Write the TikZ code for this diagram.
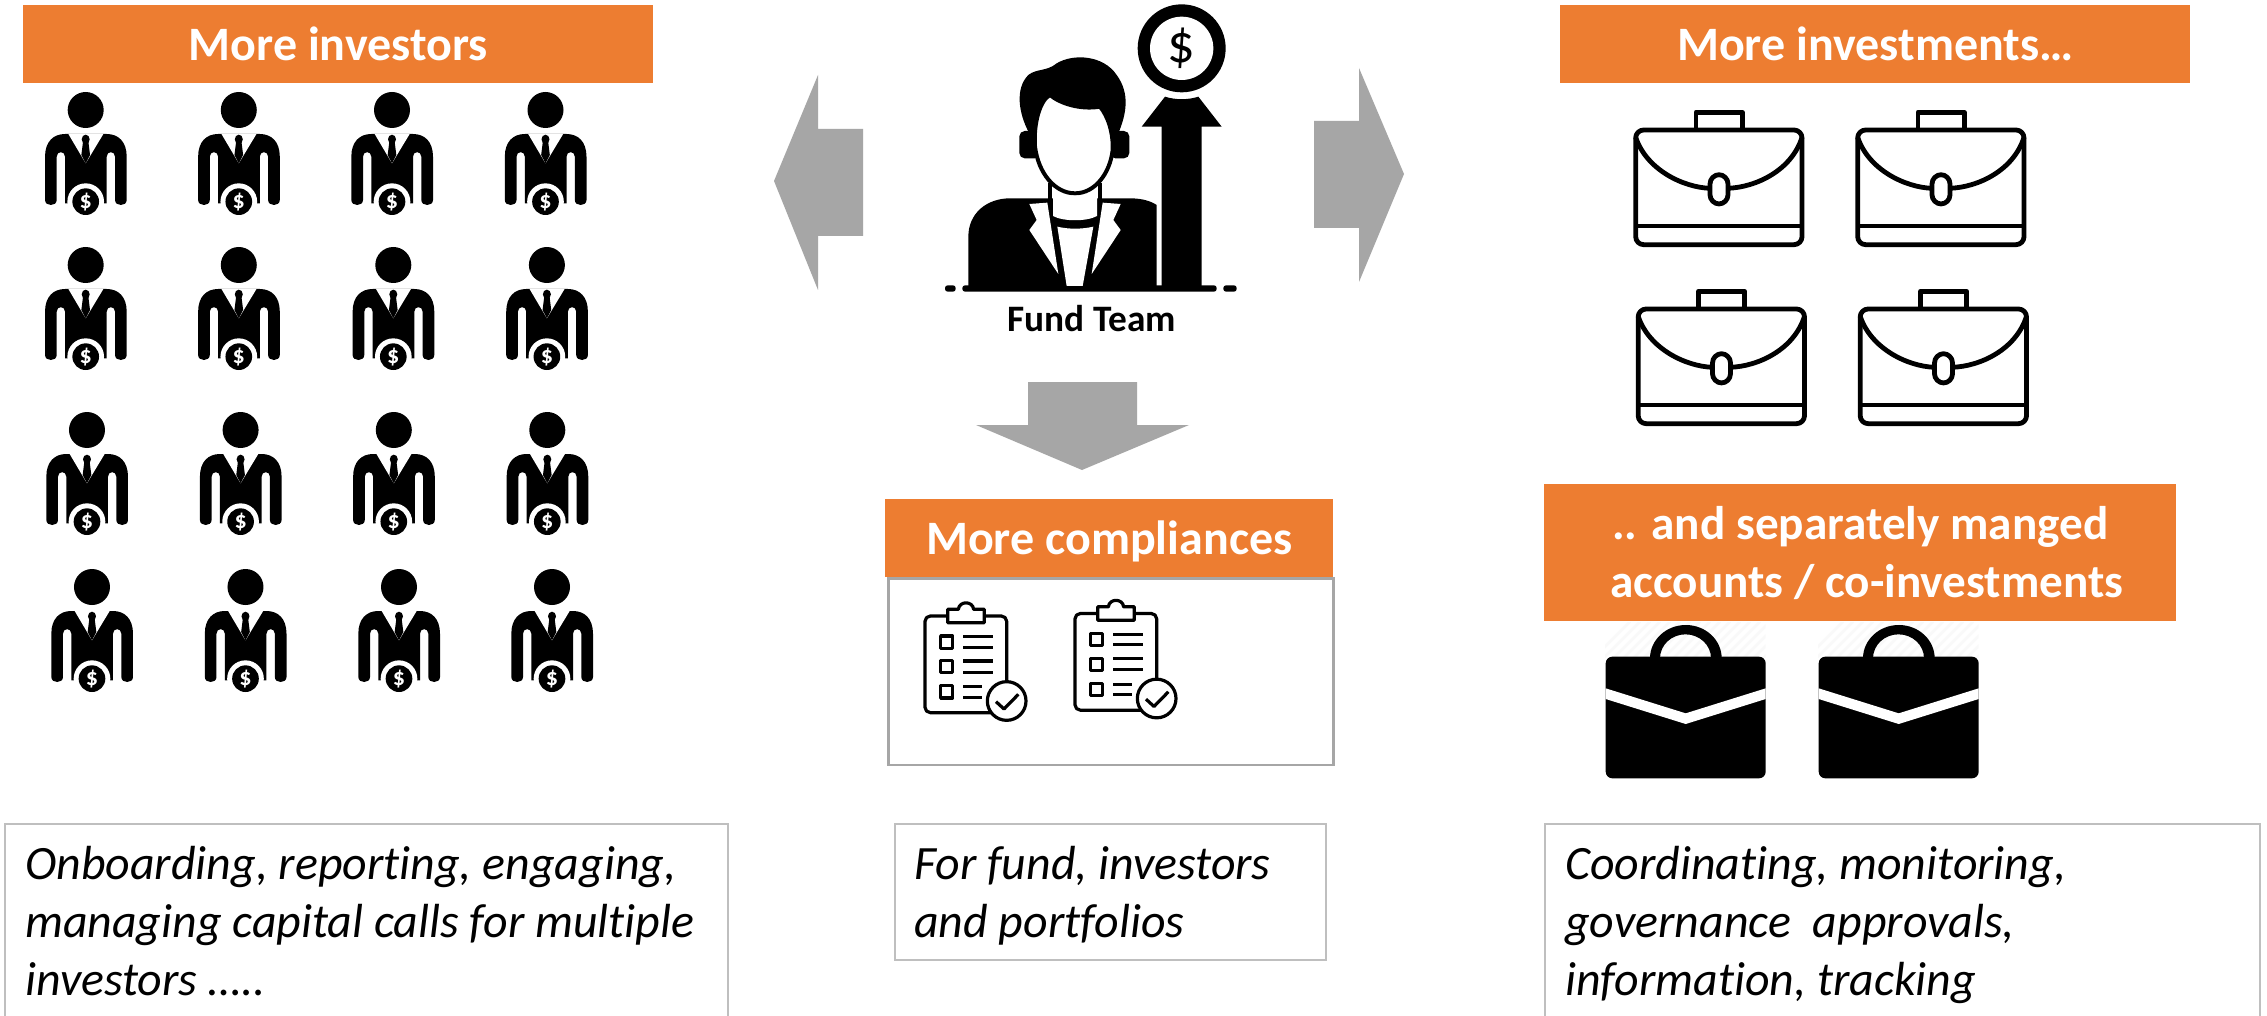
\documentclass[tikz,border=0pt]{standalone}
\usepackage{fontspec}
\setmainfont{Carlito}[Ligatures=NoCommon]
\definecolor{orangebar}{HTML}{ED7D31}
\definecolor{arrowgray}{HTML}{A6A6A6}
\definecolor{boxgray}{HTML}{BFBFBF}
\definecolor{hatchgray}{HTML}{F9F9F9}
\tikzset{
  headerbox/.style={fill=orangebar,draw=none,inner sep=0pt,anchor=north west,text=white,font=\bfseries\fontsize{36}{43.5}\selectfont,align=center},
  oneline/.style={text height=24.8pt,text depth=0pt},
  textbox/.style={draw=boxgray,line width=1.6pt,inner sep=0pt,anchor=north west},
  bodytext/.style={inner sep=0pt,anchor=north west,align=left,font=\itshape\fontsize{35.9}{43.5}\selectfont},
  bigarrow/.style={fill=arrowgray,draw=none},
  zoomed/.style={x=0.25pt,y=-0.25pt},
}
\newcommand{\personicon}[3]{%
\begin{scope}[shift={(#2-85.67,#3-50)},zoomed]
  \fill (257,150) circle[radius=54];
  \fill (135,420) -- (135,290) .. controls (135,245) and (160,222) .. (195,222) -- (320,222) .. controls (355,222) and (380,245) .. (380,290) -- (380,420) .. controls (380,440) and (345,440) .. (345,420) -- (345,290) .. controls (345,272) and (320,272) .. (320,290) -- (320,430) -- (195,430) -- (195,290) .. controls (195,272) and (170,272) .. (170,290) -- (170,420) .. controls (170,440) and (135,440) .. (135,420) -- cycle;
  \fill[white] (205,222) -- (257,310) -- (310,222) -- cycle;
  \fill (257,238) ellipse[x radius=12,y radius=14];
  \fill (249,245) -- (265,245) -- (270,285) -- (257,310) -- (244,285) -- cycle;
  \fill[white] (257,425) circle[radius=55];
  \fill (257,425) circle[radius=40];
  \node[inner sep=0pt,text=white,font=\bfseries\fontsize{18}{18}\selectfont] (#1) at (257,425) {\$};
\end{scope}}
\newcommand{\caseoutline}[2]{%
\begin{scope}[shift={(#1,#2)},zoomed,line width=3.6pt,line join=round]
  \draw (288,88) -- (288,37) -- (427,37) -- (427,88);
  \draw[rounded corners=6pt] (107,90) rectangle (606,434);
  \draw (107,378) -- (606,378);
  \draw (107,112) .. controls (140,210) and (250,262) .. (330,265);
  \draw (382,265) .. controls (470,262) and (575,210) .. (606,112);
  \draw[rounded corners=7pt] (330,224) rectangle (384,312);
\end{scope}}
\newcommand{\clipboardicon}[2]{%
\begin{scope}[shift={(#1,#2)},zoomed,line width=2.4pt,line join=round]
  \draw[rounded corners=4pt] (135,168) rectangle (380,458);
  \filldraw[fill=white] (203,148) -- (235,148) .. controls (238,122) and (278,122) .. (281,148) -- (313,148) -- (313,188) -- (203,188) -- cycle;
  \draw (182,228) rectangle (218,265);
  \draw (182,302) rectangle (218,338);
  \draw (182,377) rectangle (218,414);
  \draw (250,230) -- (338,230); \draw (250,262) -- (338,262);
  \draw (250,303) -- (338,303); \draw (250,337) -- (338,337);
  \draw (250,380) -- (305,380); \draw (250,412) -- (305,412);
  \filldraw[fill=white] (380,423) circle[radius=58];
  \draw (348,425) -- (372,447) -- (415,403);
\end{scope}}
\newcommand{\solidcase}[2]{%
\begin{scope}[shift={(#1,#2)},zoomed]
  \begin{scope}
    \clip (135,68) rectangle (617,172);
    \foreach \hx in {100,130,...,700}{\draw[hatchgray,line width=2pt] (\hx,175) -- (\hx+110,65);}
  \end{scope}
  \fill (270,175) arc[start angle=180,end angle=360,x radius=107.5,y radius=100] -- (453,175) arc[start angle=360,end angle=180,x radius=76.5,y radius=72] -- cycle;
  \fill[rounded corners=5pt] (137,170) rectangle (617,535);
  \fill[white] (137,265) -- (377,340) -- (617,265) -- (617,297) -- (377,372) -- (137,297) -- cycle;
\end{scope}}
\begin{document}
\begin{tikzpicture}[x=0.75pt,y=-0.75pt]
\useasboundingbox (0,0) rectangle (2267,1016);
\fill[white] (0,0) rectangle (2267,1016);

% headers
\node[headerbox,oneline,minimum width=472.5pt,minimum height=58.5pt] (investors) at (23,5) {More investors};
\node[headerbox,oneline,minimum width=472.5pt,minimum height=58.5pt] (investments) at (1560,5) {More investments…};
\node[headerbox,oneline,minimum width=336pt,minimum height=58.5pt] (compliances) at (885,499) {More compliances};
\node[draw=arrowgray,line width=1.9pt,inner sep=0pt,anchor=north west,minimum width=334pt,minimum height=140pt] (compbox) at (887,577) {};
\node[headerbox,font=\bfseries\fontsize{35.4}{43.5}\selectfont,minimum width=474pt,minimum height=102.75pt] (separate) at (1544,484) {.. and separately manged\\\hspace*{9.8pt}accounts / co-investments};

% text boxes
\node[textbox,minimum width=542pt,minimum height=160pt] (leftbox) at (4,823) {};
\node[textbox,minimum width=323.5pt,minimum height=102pt] (midbox) at (894,823) {};
\node[textbox,minimum width=536.25pt,minimum height=160pt] (rightbox) at (1544,823) {};
\node[bodytext] (lefttext) at ([shift={(21,23)}]leftbox.north west) {Onboarding, reporting, engaging,\\managing capital calls for multiple\\investors …..};
\node[bodytext] (midtext) at ([shift={(20,23)}]midbox.north west) {For fund, investors\\and portfolios};
\node[bodytext] (righttext) at ([shift={(21,23)}]rightbox.north west) {Coordinating, monitoring,\\governance\ \ approvals,\\information, tracking};

% arrows
\fill[bigarrow] (774,181) -- (818,75) -- (818,129) -- (863,129) -- (863,236) -- (818,236) -- (818,290) -- cycle;
\fill[bigarrow] (1404,174) -- (1359,68) -- (1359,121) -- (1314,121) -- (1314,228) -- (1359,228) -- (1359,282) -- cycle;
\fill[bigarrow] (1082,470) -- (976,425) -- (1028,425) -- (1028,382) -- (1137,382) -- (1137,425) -- (1189,425) -- cycle;

% investors
\foreach \n/\hx/\hy in {
 a/85.7/110,b/238.8/110,c/392/110,d/545.5/110,
 e/85.7/265,f/238.8/265,g/393.3/265,h/546.9/265,
 i/87/430,j/240.6/430,k/393.8/430,l/547.3/430,
 m/92/587,n/245.5/587,o/399/587,p/552/587}{
  \personicon{coin\n}{\hx}{\hy}
}

% fund team icon
\begin{scope}[shift={(900,0)},zoomed]
  \fill (845,145) circle[radius=132];
  \fill[white] (845,145) circle[radius=95];
  \node[inner sep=0pt,font=\fontsize{41}{41}\selectfont] (dollar) at (845,145) {\$};
  \fill (795,290) .. controls (825,300) and (865,300) .. (895,290) -- (965,380) -- (905,380) -- (905,860) -- (785,860) -- (785,380) -- (725,380) -- cycle;
  \fill (205,860) -- (205,710) .. controls (205,640) and (260,595) .. (330,595) -- (690,595) .. controls (730,595) and (755,605) .. (770,615) -- (770,860) -- cycle;
  \fill[rounded corners=2pt] (187,856) rectangle (950,875);
  \fill[rounded corners=2pt] (135,856) rectangle (167,875);
  \fill[rounded corners=2pt] (970,856) rectangle (1010,875);
  \fill[rounded corners=4pt] (358,393) rectangle (420,475);
  \fill[rounded corners=4pt] (630,393) rectangle (688,475);
  \fill (388,400) .. controls (355,340) and (345,265) .. (385,225) .. controls (410,205) and (440,215) .. (470,190) .. controls (520,160) and (610,165) .. (650,225) .. controls (690,280) and (680,340) .. (655,400) -- cycle;
  \draw[line width=3pt] (450,550) -- (450,600) (600,550) -- (600,600);
  \filldraw[fill=white,line width=3pt] (405,440) .. controls (400,370) and (420,300) .. (450,285) .. controls (480,310) and (540,330) .. (600,320) .. controls (625,350) and (640,400) .. (638,450) .. controls (630,520) and (585,580) .. (525,580) .. controls (465,580) and (415,520) .. (405,440) -- cycle;
  \fill[white] (459,590) -- (459,648) .. controls (490,665) and (560,665) .. (591,648) -- (591,590) .. controls (560,586) and (490,586) .. (459,590) -- cycle;
  \fill[white] (388,612) -- (442,608) -- (475,822) -- (388,690) -- (410,660) -- cycle;
  \fill[white] (662,612) -- (608,608) -- (575,822) -- (662,690) -- (640,660) -- cycle;
  \fill[white] (472,680) .. controls (505,688) and (545,688) .. (580,680) -- (548,858) -- (500,858) -- cycle;
\end{scope}
\node[inner sep=0pt,font=\bfseries\fontsize{28}{28}\selectfont] (fundteam) at (1091.7,319) {Fund Team};

% outline briefcases
\caseoutline{1600}{100}
\caseoutline{1822}{100}
\caseoutline{1602.5}{279}
\caseoutline{1824.5}{279}

% clipboards
\clipboardicon{880}{560}
\clipboardicon{1030}{557.5}

% solid briefcases
\solidcase{1560}{600}
\solidcase{1773}{600}
\end{tikzpicture}
\end{document}
